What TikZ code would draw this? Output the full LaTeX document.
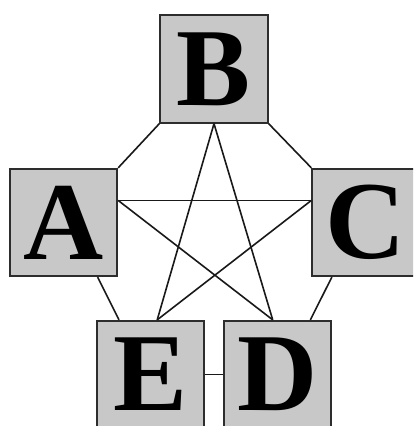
\documentclass[tikz,border=0pt]{standalone}
\usepackage{fontspec}
\setmainfont{Liberation Serif}
\usepackage{tikz}
\definecolor{boxgray}{RGB}{200,200,200}
\definecolor{linegray}{RGB}{45,45,45}

\begin{document}
\begin{tikzpicture}[x=1pt,y=-1pt,
  vtx/.style={draw=linegray,line width=1.8pt,fill=boxgray,minimum size=107.5pt,
  inner sep=0pt,font=\fontsize{111}{111}\bfseries\selectfont},
  edge/.style={draw=black!90,line width=1.6pt}]
  \clip (0,0) rectangle (413,426);
  % boxes
  \node[vtx] (B) at (214,69) {B};
  \node[vtx] (A) at (63.5,222.5) {A};
  \node[vtx] (C) at (366,222.5) {C};
  \node[vtx] (E) at (150.5,374.5) {E};
  \node[vtx] (D) at (277.5,374.5) {D};
  % outer ring
  \draw[edge] (B.south west) -- (A.north east);
  \draw[edge] (B.south east) -- (C.north west);
  \draw[edge] (A.-58) -- (E.120);
  \draw[edge] (C.-122) -- (D.59);
  \draw[edge] (E.east) -- (D.west);
  % star
  \draw[edge] (B.south) -- (E.83);
  \draw[edge] (B.south) -- (D.95);
  \draw[edge] (A.22) -- (C.158);
  \draw[edge] (A.22) -- (D.95);
  \draw[edge] (C.158) -- (E.83);
\end{tikzpicture}
\end{document}
